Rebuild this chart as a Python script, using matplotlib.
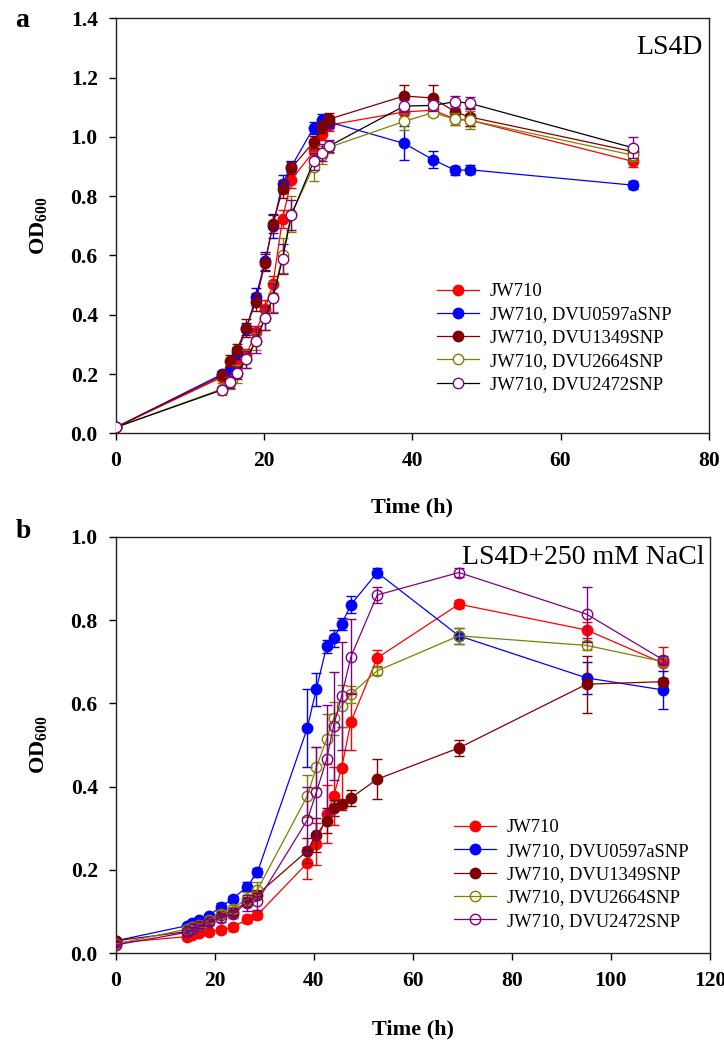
import matplotlib
matplotlib.use("Agg")
import matplotlib.pyplot as plt
from matplotlib.lines import Line2D

plt.rcParams['font.family'] = ['Liberation Serif', 'DejaVu Serif']
plt.rcParams['mathtext.fontset'] = 'custom'
plt.rcParams['mathtext.rm'] = 'Liberation Serif:bold'
plt.rcParams['mathtext.bf'] = 'Liberation Serif:bold'
plt.rcParams['mathtext.it'] = 'Liberation Serif:bold:italic'

labels = ["JW710", "JW710, DVU0597aSNP", "JW710, DVU1349SNP",
          "JW710, DVU2664SNP", "JW710, DVU2472SNP"]

# ---- Panel a (LS4D) ----
time_a = [0, 14.4, 15.35, 16.35, 17.6, 18.9, 20.15, 21.2, 22.5, 23.7,
          26.7, 27.8, 28.8, 38.9, 42.8, 45.8, 47.8, 69.8]
jw710_a = [0.02, 0.19, 0.21, 0.235, 0.263, 0.342, 0.42, 0.502, 0.724, 0.856,
           0.951, 1.008, 1.04, 1.084, 1.09, 1.06, 1.056, 0.917]
dvu0597_a = [0.02, 0.20, 0.218, 0.27, 0.352, 0.46, 0.58, 0.70, 0.842, 0.90,
             1.031, 1.056, 1.05, 0.978, 0.923, 0.887, 0.889, 0.837]
dvu1349_a = [0.02, 0.195, 0.243, 0.282, 0.356, 0.443, 0.576, 0.705, 0.823, 0.895,
             0.983, 1.033, 1.06, 1.138, 1.131, 1.084, 1.067, 0.95]
dvu2664_a = [0.02, 0.15, 0.17, 0.20, 0.25, 0.31, 0.39, 0.46, 0.60, 0.74,
             0.90, 0.94, 0.965, 1.052, 1.082, 1.059, 1.056, 0.938]
dvu2472_a = [0.02, 0.147, 0.172, 0.203, 0.249, 0.311, 0.39, 0.456, 0.588, 0.736,
             0.917, 0.947, 0.969, 1.104, 1.106, 1.119, 1.113, 0.963]

err_jw710_a = [0, .01, .01, .015, .02, .02, .03, .03, .03, .03, .02, .02, .02, .02, .02, .02, .02, .02]
err_dvu0597_a = [0, .01, .01, .02, .02, .03, .03, .04, .03, .02, .02, .02, .02, .057, .028, .015, .015, .013]
err_dvu1349_a = [0, .01, .02, .02, .03, .03, .03, .03, .03, .02, .02, .02, .02, .037, .043, .02, .03, .02]
err_dvu2664_a = [0, .02, .02, .03, .03, .03, .04, .05, .06, .06, .05, .03, .02, .03, .01, .02, .03, .02]
err_dvu2472_a = [0, .01, .02, .02, .03, .04, .04, .05, .05, .05, .03, .03, .02, .02, .02, .02, .02, .035]

# ---- Panel b (LS4D + 250 mM NaCl) ----
time_b = [0, 14.3, 15.5, 16.9, 18.8, 21.2, 23.6, 26.5, 28.6, 38.7, 40.5,
          42.6, 44.0, 45.6, 47.5, 52.8, 69.3, 95.1, 110.6]
jw710_b = [0.025, 0.040, 0.044, 0.048, 0.052, 0.056, 0.062, 0.082, 0.092, 0.217,
           0.262, 0.334, 0.378, 0.444, 0.556, 0.709, 0.838, 0.776, 0.696]
dvu0597_b = [0.03, 0.066, 0.073, 0.080, 0.090, 0.112, 0.130, 0.160, 0.194, 0.541,
             0.634, 0.737, 0.756, 0.790, 0.837, 0.914, 0.762, 0.661, 0.632]
dvu1349_b = [0.03, 0.052, 0.060, 0.068, 0.077, 0.093, 0.100, 0.124, 0.141, 0.246,
             0.284, 0.318, 0.349, 0.358, 0.373, 0.418, 0.493, 0.646, 0.652]
dvu2664_b = [0.022, 0.058, 0.063, 0.068, 0.080, 0.095, 0.107, 0.131, 0.152, 0.378,
             0.446, 0.514, 0.564, 0.594, 0.622, 0.678, 0.762, 0.739, 0.70]
dvu2472_b = [0.02, 0.050, 0.058, 0.066, 0.075, 0.085, 0.094, 0.121, 0.125, 0.320,
             0.386, 0.466, 0.546, 0.617, 0.712, 0.860, 0.914, 0.814, 0.704]

err_jw710_b = [0, .005, .005, .005, .005, .008, .008, .01, .01, .039, .05, .07, .07, .1, .068, .02, .01, .02, .04]
err_dvu0597_b = [0, .005, .005, .005, .005, .008, .008, .01, .01, .094, .04, .015, .02, .015, .02, .01, .02, .038, .045]
err_dvu1349_b = [0, .005, .005, .005, .005, .008, .008, .01, .01, .03, .04, .03, .02, .01, .02, .048, .02, .068, .01]
err_dvu2664_b = [0, .005, .005, .005, .008, .01, .01, .015, .02, .05, .05, .06, .04, .05, .02, .01, .02, .01, .01]
err_dvu2472_b = [0, .005, .005, .005, .008, .01, .01, .02, .02, .08, .11, .13, .13, .13, .09, .02, .01, .066, .01]

marker_colors = ['#FF0000', '#0000FF', '#800000', '#808000', '#800080']
filled = [True, True, True, False, False]
line_colors_a = ['#FF0000', '#0000FF', '#800000', '#808000', '#000000']
line_colors_b = ['#FF0000', '#0000FF', '#800000', '#808000', '#800080']

fig = plt.figure(figsize=(7.24, 10.41), dpi=100)
W, H = 724.0, 1041.0

ax_a = fig.add_axes([115.7 / W, 1 - 433.3 / H, (708.8 - 115.7) / W, 415.0 / H])
ax_b = fig.add_axes([115.7 / W, 1 - 953.3 / H, (710.0 - 115.7) / W, 416.6 / H])


def draw(ax, t, series, errs, lcols, open_face):
    handles = []
    for i, (y, e) in enumerate(zip(series, errs)):
        mc = marker_colors[i]
        mfc = mc if filled[i] else open_face
        ax.errorbar(t, y, yerr=e, fmt='none', ecolor=mc, elinewidth=1.0,
                    capsize=3.7, capthick=1.0, zorder=2 + i)
        ax.plot(t, y, '-', color=lcols[i], lw=0.9, zorder=2 + i)
        ax.plot(t, y, 'o', ms=7.5, mfc=mfc, mec=mc, mew=1.0, zorder=2.5 + i)
        handles.append(Line2D([], [], color=lcols[i], lw=0.9, marker='o', ms=7.5,
                              mfc=mfc, mec=mc, mew=1.0))
    return handles


h_a = draw(ax_a, time_a, [jw710_a, dvu0597_a, dvu1349_a, dvu2664_a, dvu2472_a],
           [err_jw710_a, err_dvu0597_a, err_dvu1349_a, err_dvu2664_a, err_dvu2472_a],
           line_colors_a, 'white')
h_b = draw(ax_b, time_b, [jw710_b, dvu0597_b, dvu1349_b, dvu2664_b, dvu2472_b],
           [err_jw710_b, err_dvu0597_b, err_dvu1349_b, err_dvu2664_b, err_dvu2472_b],
           line_colors_b, 'none')

ax_a.set_xlim(0, 80)
ax_a.set_ylim(0, 1.4)
ax_a.set_xticks([0, 20, 40, 60, 80])
ax_a.set_yticks([0.0, 0.2, 0.4, 0.6, 0.8, 1.0, 1.2, 1.4])
ax_b.set_xlim(0, 120)
ax_b.set_ylim(0, 1.0)
ax_b.set_xticks([0, 20, 40, 60, 80, 100, 120])
ax_b.set_yticks([0.0, 0.2, 0.4, 0.6, 0.8, 1.0])

for ax in (ax_a, ax_b):
    ax.yaxis.set_major_formatter(matplotlib.ticker.FormatStrFormatter('%.1f'))
    ax.tick_params(direction='out', length=5, width=1.0, pad=8, labelsize=15.5,
                   top=False, right=False)
    for lab in ax.get_xticklabels() + ax.get_yticklabels():
        lab.set_fontweight('bold')
    for sp in ax.spines.values():
        sp.set_linewidth(1.0)
        sp.set_color('#222222')
    ax.set_xlabel('Time (h)', fontsize=16, fontweight='bold')
    ax.set_ylabel(r'OD$_{600}$', fontsize=16, fontweight='bold')

ax_a.xaxis.set_label_coords(0.5, -0.155)
ax_a.yaxis.set_label_coords(-0.112, 0.5)
ax_b.xaxis.set_label_coords(0.5, -0.16)
ax_b.yaxis.set_label_coords(-0.112, 0.5)

ax_a.text(0.99, 0.915, 'LS4D', transform=ax_a.transAxes, ha='right', va='baseline',
          fontsize=20)
ax_b.text(0.99, 0.935, 'LS4D+250 mM NaCl', transform=ax_b.transAxes, ha='right',
          va='baseline', fontsize=20)

fig.text(15 / W, 1 - 27 / H, 'a', fontsize=20, fontweight='bold', va='baseline')
fig.text(16 / W, 1 - 538 / H, 'b', fontsize=20, fontweight='bold', va='baseline')

leg_kw = dict(frameon=False, fontsize=13.3, handlelength=2.25, handletextpad=0.6,
              labelspacing=0.34, borderpad=0, borderaxespad=0, numpoints=1,
              loc='upper left')
fig.legend(h_a, labels, bbox_to_anchor=(437 / W, 1 - 283 / H), **leg_kw)
fig.legend(h_b, labels, bbox_to_anchor=(454 / W, 1 - 819.5 / H), **leg_kw)

fig.savefig('out.png', dpi=100)
